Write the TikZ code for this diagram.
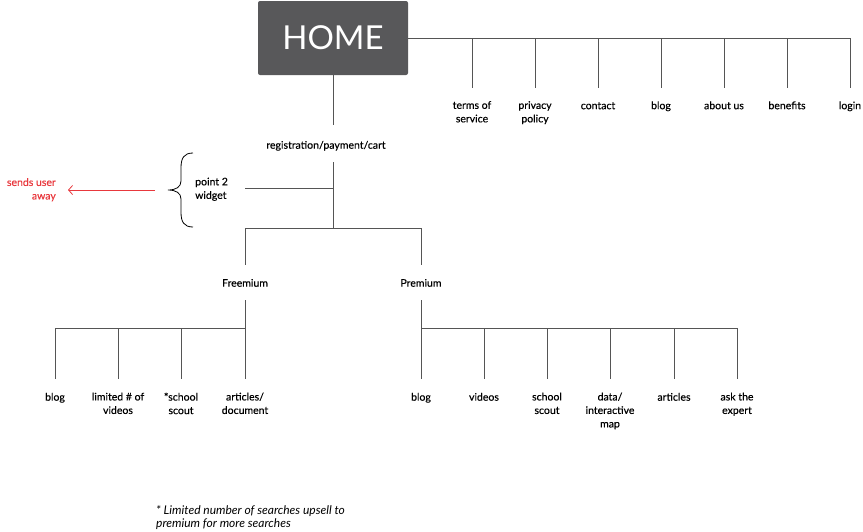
\documentclass[tikz,border=0pt]{standalone}
\usepackage{fontspec}
\setmainfont{Lato}
\newfontfamily\lblfont{Lato}[FakeBold=0.35]
\usepackage{xcolor}
\usetikzlibrary{positioning, arrows.meta, calc}
\definecolor{homegray}{HTML}{58585A}
\definecolor{awayred}{HTML}{E8383D}
\definecolor{linegray}{HTML}{555555}

\begin{document}
\begin{tikzpicture}[x=1pt, y=-1pt, >={Straight Barb[length=4pt,width=9pt]},
  lbl/.style={align=center, anchor=north, inner sep=0pt, font=\lblfont\fontsize{10.5}{13.5}\selectfont,
    execute at begin node={\rule{0pt}{8pt}}},
  ln/.style={draw=linegray, line width=0.8pt},
  homebox/.style={fill=homegray, rounded corners=2pt, minimum width=150pt, minimum height=74pt,
    text=white, font=\fontsize{33}{33}\selectfont}]
  \useasboundingbox (0,0) rectangle (863,531);

  % home and top menu
  \node[homebox] (home) at (333,38) {HOME};
  \coordinate (tb) at (850,38);
  \node[lbl] (tos) at (472,101) {terms of\\service};
  \node[lbl] (priv) at (535,101) {privacy\\policy};
  \node[lbl] (cont) at (598,101) {contact};
  \node[lbl] (tblog) at (661,101) {blog};
  \node[lbl] (about) at (724,101) {about us};
  \node[lbl] (bene) at (787,101) {benefits};
  \node[lbl] (login) at (850,101) {login};
  \draw[ln] (home.east |- tb) -- (tb);
  \draw[ln] (tos |- tb) -- ([yshift=13pt]tos.north);
  \draw[ln] (priv |- tb) -- ([yshift=13pt]priv.north);
  \draw[ln] (cont |- tb) -- ([yshift=13pt]cont.north);
  \draw[ln] (tblog |- tb) -- ([yshift=13pt]tblog.north);
  \draw[ln] (about |- tb) -- ([yshift=13pt]about.north);
  \draw[ln] (bene |- tb) -- ([yshift=13pt]bene.north);
  \draw[ln] (login |- tb) -- ([yshift=13pt]login.north);

  % registration and widget
  \coordinate (regtop) at (333,125);
  \coordinate (regbot) at (333,162);
  \coordinate (j2) at (333,188);
  \coordinate (split) at (333,228);
  \node[lbl] (reg) at (326,140.5) {registration/payment/cart};
  \node[lbl, anchor=north west, align=left] (widget) at (195,177.5) {point 2\\widget};
  \node[lbl, anchor=north east, align=right, text=awayred] (away) at (56,178) {sends user\\away};
  \coordinate (tip) at (168,190);
  \draw[ln] (home) -- (regtop);
  \draw[ln] (regbot) -- (split);
  \draw[ln] (j2) -- (245,188);
  \draw[line width=0.8pt] (193,153) .. controls (184,153) and (181,158) .. (181,168) -- (181,181)
    .. controls (181,187) and (176,190) .. (tip) .. controls (176,190) and (181,193) .. (181,199)
    -- (181,212) .. controls (181,222) and (184,227) .. (193,227);
  \draw[->, awayred, line width=0.8pt] ([xshift=-13pt]tip) -- ([xshift=12pt]away.east |- tip);

  % freemium / premium
  \node[lbl] (free) at (245,278.5) {Freemium};
  \node[lbl] (prem) at (421,278.5) {Premium};
  \draw[ln] (free |- split) -- (prem |- split);
  \draw[ln] (free |- split) -- ([yshift=13.5pt]free.north);
  \draw[ln] (prem |- split) -- ([yshift=13.5pt]prem.north);

  % freemium pages
  \coordinate (fbar) at (245,328);
  \node[lbl] (fblog) at (55,392.5) {blog};
  \node[lbl] (fvid) at (118,392.5) {limited \# of\\videos};
  \node[lbl] (fscout) at (181,392.5) {*school\\scout};
  \node[lbl] (fart) at (245,392.5) {articles/\\document};
  \draw[ln] ([yshift=-13.5pt]free.south) -- ([yshift=13.5pt]fart.north);
  \draw[ln] (fblog |- fbar) -- (fbar);
  \draw[ln] (fblog |- fbar) -- ([yshift=13.5pt]fblog.north);
  \draw[ln] (fvid |- fbar) -- ([yshift=13.5pt]fvid.north);
  \draw[ln] (fscout |- fbar) -- ([yshift=13.5pt]fscout.north);

  % premium pages
  \coordinate (pbar) at (421,328);
  \node[lbl] (pblog) at (421,392.5) {blog};
  \node[lbl] (pvid) at (484,392.5) {videos};
  \node[lbl] (pscout) at (547,392.5) {school\\scout};
  \node[lbl] (pdata) at (610,392.5) {data/\\interactive\\map};
  \node[lbl] (part) at (674,392.5) {articles};
  \node[lbl] (pask) at (737,392.5) {ask the\\expert};
  \draw[ln] ([yshift=-13.5pt]prem.south) -- ([yshift=13.5pt]pblog.north);
  \draw[ln] (pbar) -- (pask |- pbar);
  \draw[ln] (pvid |- pbar) -- ([yshift=13.5pt]pvid.north);
  \draw[ln] (pscout |- pbar) -- ([yshift=13.5pt]pscout.north);
  \draw[ln] (pdata |- pbar) -- ([yshift=13.5pt]pdata.north);
  \draw[ln] (part |- pbar) -- ([yshift=13.5pt]part.north);
  \draw[ln] (pask |- pbar) -- ([yshift=13.5pt]pask.north);

  % footnote
  \node[lbl, anchor=north west, align=left, font=\fontsize{12}{13}\selectfont\itshape] (note) at (156,505.5)
    {* Limited number of searches upsell to\\premium for more searches};
\end{tikzpicture}
\end{document}
